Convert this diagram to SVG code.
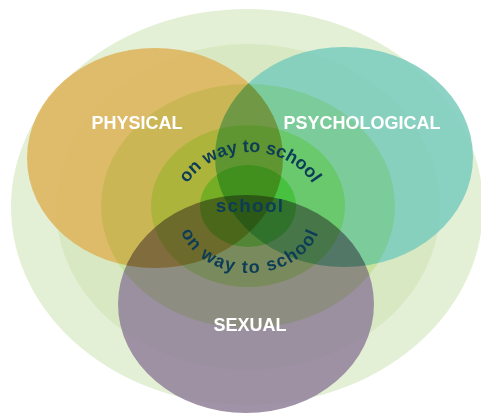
<svg xmlns="http://www.w3.org/2000/svg" width="481" height="418" viewBox="0 0 481 418">
<style>
.lbl{font-family:"Liberation Sans",Arial,sans-serif;font-weight:bold;font-size:18px;fill:#ffffff;text-anchor:middle}
.arc{font-family:"Liberation Sans",Arial,sans-serif;font-weight:bold;fill:#0d3d56}
.mul{mix-blend-mode:multiply}
</style>
<defs>
<path id="topArc" d="M179,212 A71,60 0 0 1 321,212"/>
<path id="botArc" d="M178,215 A72,58 0 0 0 322,215"/>
</defs>
<rect width="481" height="418" fill="#ffffff"/>
<g id="rings-outer">
<ellipse cx="247" cy="207" rx="236" ry="198" fill="#e3f0d5"/>
<ellipse cx="248" cy="207" rx="192" ry="163" fill="#d8e8c2"/>
</g>
<g id="categories" style="isolation:isolate" opacity="0.87">
<g id="physical"><ellipse class="mul" cx="155" cy="158" rx="128" ry="110" fill="#dfb55c"/></g>
<g id="psychological"><ellipse class="mul" cx="344" cy="157" rx="129" ry="110" fill="#7ccdbe"/></g>
<g id="sexual"><ellipse class="mul" cx="246" cy="304" rx="128" ry="109" fill="#93849c"/></g>
</g>
<g id="rings-inner">
<ellipse class="mul" cx="248" cy="206" rx="147" ry="122" fill="#eaf9cf"/>
<ellipse class="mul" cx="248" cy="206" rx="97" ry="81" fill="#d9fcb4"/>
<ellipse class="mul" cx="248" cy="206" rx="48" ry="41" fill="#adf596"/>
</g>
<g id="labels">
<text class="lbl" x="137" y="129">PHYSICAL</text>
<text class="lbl" x="362" y="129">PSYCHOLOGICAL</text>
<text class="lbl" x="250" y="331">SEXUAL</text>
</g>
<g id="school-text">
<text class="arc" style="font-size:18px" letter-spacing="0"><textPath href="#topArc" startOffset="50%" text-anchor="middle">on way to school</textPath></text>
<text class="arc" style="font-size:18px" letter-spacing="1.5"><textPath href="#botArc" startOffset="50%" text-anchor="middle">on way to school</textPath></text>
<text class="arc" style="font-size:19px" x="250" y="212" letter-spacing="1.2" text-anchor="middle">school</text>
</g>
</svg>
